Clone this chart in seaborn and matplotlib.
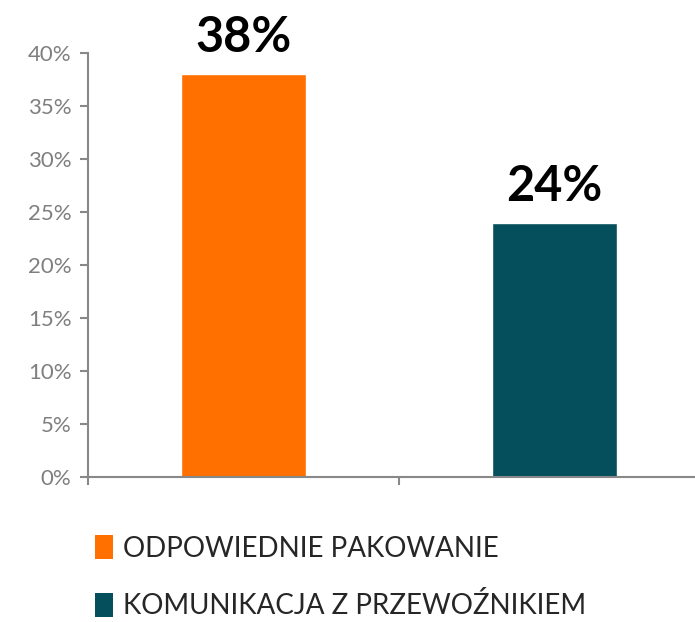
import pandas as pd
import matplotlib.pyplot as plt
import seaborn as sns
from matplotlib.patches import Patch

# data
categories = ["ODPOWIEDNIE PAKOWANIE", "KOMUNIKACJA Z PRZEWOŹNIKIEM"]
values = [0.38, 0.24]
colors = ["#FF7000", "#044F5B"]
y_ticks = [0, 0.05, 0.10, 0.15, 0.20, 0.25, 0.30, 0.35, 0.40]

sns.set_style("white")
plt.rcParams["font.family"] = ["Lato", "DejaVu Sans"]

df = pd.DataFrame({"category": categories, "value": values})

fig = plt.figure(figsize=(6.95, 6.22), dpi=100)
# axes runs a bit past the right edge, like the original
ax = fig.add_axes([88 / 695, 145 / 622, 622 / 695, 424 / 622])

sns.barplot(data=df, x="category", y="value", hue="category",
            palette=colors, width=0.4, legend=False, ax=ax,
            saturation=1)

ax.set_xlim(-0.5, 1.5)
ax.set_ylim(0, 0.4)
ax.set_xticks([-0.5, 0.5, 1.5])
ax.set_xticklabels([])
ax.set_yticks(y_ticks)
ax.set_yticklabels([f"{round(t * 100)}%" for t in y_ticks])
ax.set_xlabel("")
ax.set_ylabel("")

grey = "#888888"
for side in ["top", "right"]:
    ax.spines[side].set_visible(False)
for side in ["left", "bottom"]:
    ax.spines[side].set_color(grey)
    ax.spines[side].set_linewidth(1.5)
ax.tick_params(axis="both", length=6, width=1.5, color=grey,
               labelcolor="#7F7F7F", labelsize=16, direction="out",
               left=True, bottom=True)
ax.tick_params(axis="y", pad=6)

# value labels above bars
for i, v in enumerate(values):
    ax.annotate(f"{round(v * 100)}%", (i, v), xytext=(0, 10),
                textcoords="offset points", ha="center", va="bottom",
                fontsize=35, fontweight="bold", color="black")

handles = [Patch(facecolor=c, edgecolor="none") for c in colors]
fig.legend(handles, categories, loc="upper left",
           bbox_to_anchor=(84 / 695, 1 - 524 / 622), frameon=False,
           fontsize=20, handlelength=0.65, handleheight=0.95,
           handletextpad=0.35, labelspacing=1.1, borderaxespad=0)

fig.savefig("out.png", dpi=100)
